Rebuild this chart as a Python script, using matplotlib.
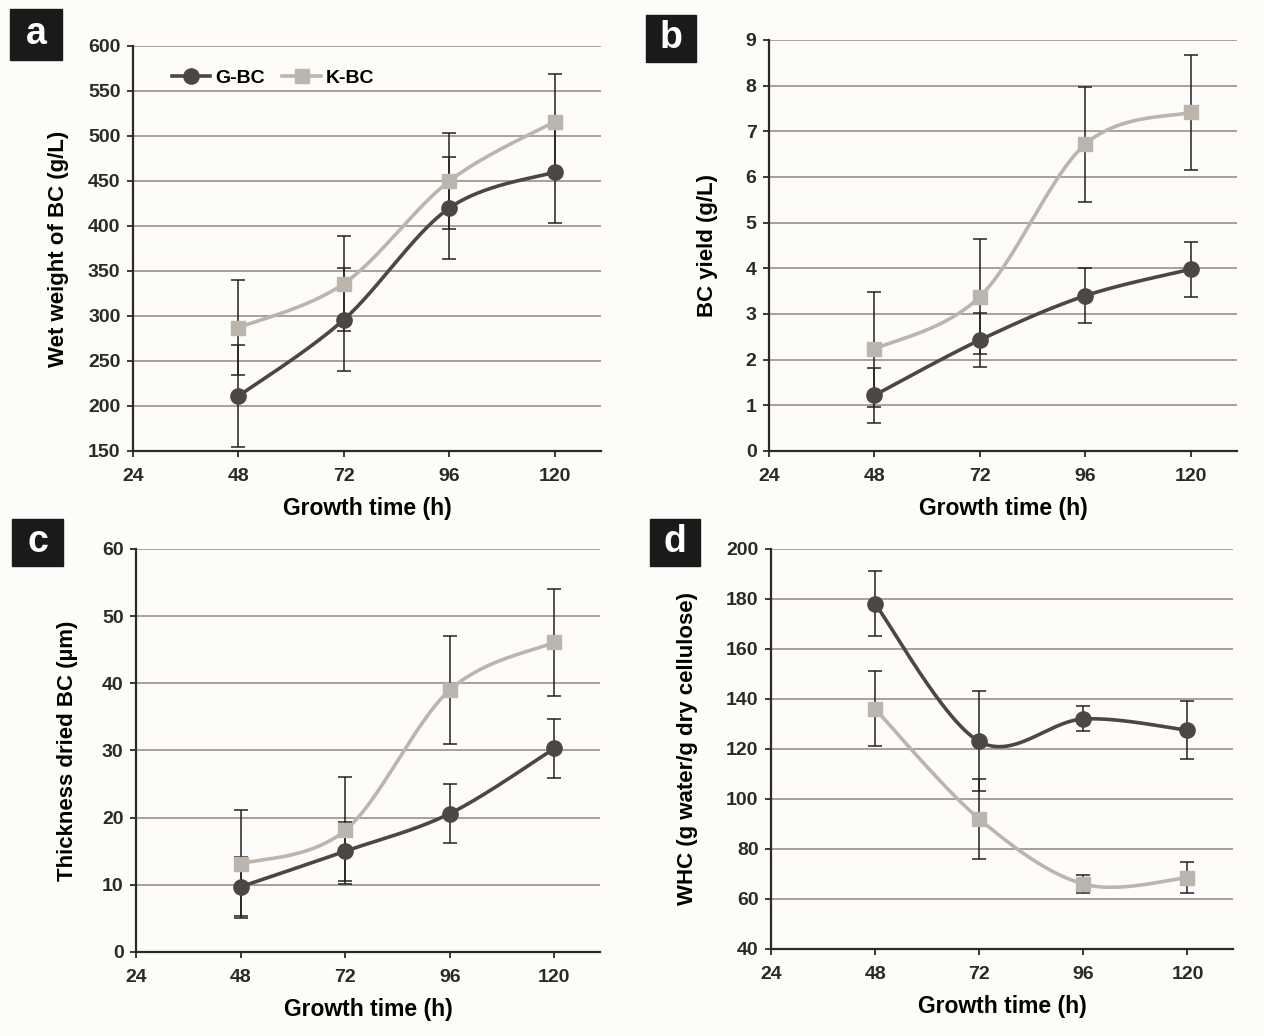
import numpy as np
import matplotlib.pyplot as plt
from matplotlib.patches import Rectangle
from matplotlib.lines import Line2D

plt.rcParams["font.family"] = ["Liberation Sans", "DejaVu Sans"]
plt.rcParams["font.weight"] = "bold"

hours = [48, 72, 96, 120]
series_names = ["G-BC", "K-BC"]

# (a) wet weight of BC (g/L)
wet_g = [211, 296, 420, 460]
wet_g_err = [57, 57, 57, 57]
wet_k = [287, 336, 450, 516]
wet_k_err = [53, 53, 53, 53]

# (b) BC yield (g/L)
yield_g = [1.22, 2.43, 3.40, 3.98]
yield_g_err = [0.60, 0.60, 0.60, 0.60]
yield_k = [2.23, 3.38, 6.72, 7.42]
yield_k_err = [1.26, 1.26, 1.26, 1.26]

# (c) thickness of dried BC (um)
thick_g = [9.7, 15.0, 20.6, 30.3]
thick_g_err = [4.4, 4.4, 4.4, 4.4]
thick_k = [13.1, 18.1, 39.0, 46.1]
thick_k_err = [8.0, 8.0, 8.0, 8.0]

# (d) water holding capacity
whc_g = [178, 123, 132, 127.5]
whc_g_err = [13, 20, 5, 11.5]
whc_k = [136, 92, 66, 68.5]
whc_k_err = [15, 16, 3.5, 6.3]

DARK = "#4b4843"
LIGHT = "#bcb5ae"
GRID = "#a39a92"
AXIS = "#2a2a2a"
BG = "#fdfcf8"


def smooth(x, y, n=50):
    # Excel-style smoothed line (Catmull-Rom as cubic Bezier)
    pts = np.column_stack([x, y]).astype(float)
    pts = np.vstack([pts[0], pts, pts[-1]])
    t = np.linspace(0, 1, n)[:, None]
    out = []
    for i in range(1, len(pts) - 2):
        p0, p1, p2, p3 = pts[i - 1], pts[i], pts[i + 1], pts[i + 2]
        c1 = p1 + (p2 - p0) / 6
        c2 = p2 - (p3 - p1) / 6
        seg = ((1 - t) ** 3) * p1 + 3 * ((1 - t) ** 2) * t * c1 \
            + 3 * (1 - t) * t ** 2 * c2 + t ** 3 * p2
        out.append(seg)
    seg = np.vstack(out)
    return seg[:, 0], seg[:, 1]


def panel(ax, g, g_err, k, k_err, ylim, ystep, ylabel, labelpad):
    ax.set_facecolor(BG)
    for vals, errs, col, mk, ms in [(g, g_err, DARK, "o", 11),
                                     (k, k_err, LIGHT, "s", 10)]:
        sx, sy = smooth(hours, vals)
        ax.plot(sx, sy, color=col, lw=2.6, zorder=3)
        ax.errorbar(hours, vals, yerr=errs, fmt="none", ecolor="#222222",
                    elinewidth=1.1, capsize=5, capthick=1.1, zorder=4)
        ax.plot(hours, vals, ls="none", marker=mk, ms=ms, color=col, zorder=5)
    ax.set_xlim(24, 130.5)
    ax.set_xticks([24, 48, 72, 96, 120])
    ax.set_ylim(*ylim)
    ax.set_yticks(np.arange(ylim[0], ylim[1] + ystep / 2, ystep))
    ax.yaxis.grid(True, color=GRID, lw=1.3)
    ax.set_axisbelow(True)
    for s in ["top", "right"]:
        ax.spines[s].set_visible(False)
    for s in ["left", "bottom"]:
        ax.spines[s].set_color(AXIS)
        ax.spines[s].set_linewidth(1.6)
    ax.tick_params(axis="both", labelsize=14, colors=AXIS, length=4,
                   width=1.3)
    ax.tick_params(axis="x", pad=8)
    ax.tick_params(axis="y", pad=5)
    ax.set_xlabel("Growth time (h)", fontsize=16.5, fontweight="bold",
                  labelpad=9)
    ax.set_ylabel(ylabel, fontsize=16, fontweight="bold", labelpad=labelpad)


fig = plt.figure(figsize=(12.64, 10.36), dpi=100, facecolor=BG)

ax_a = fig.add_axes([0.1052, 0.5647, 0.3703, 0.3909])
ax_b = fig.add_axes([0.6084, 0.5647, 0.3702, 0.3967])
ax_c = fig.add_axes([0.1076, 0.0811, 0.3671, 0.3890])
ax_d = fig.add_axes([0.6100, 0.0840, 0.3655, 0.3861])

panel(ax_a, wet_g, wet_g_err, wet_k, wet_k_err, (150, 600), 50,
      "Wet weight of BC (g/L)", 14)
panel(ax_b, yield_g, yield_g_err, yield_k, yield_k_err, (0, 9), 1,
      "BC yield (g/L)", 20)
panel(ax_c, thick_g, thick_g_err, thick_k, thick_k_err, (0, 60), 10,
      "Thickness dried BC (µm)", 17)
panel(ax_d, whc_g, whc_g_err, whc_k, whc_k_err, (40, 200), 20,
      "WHC (g water/g dry cellulose)", 20)

handles = [Line2D([], [], color=DARK, lw=2.6, marker="o", ms=11),
           Line2D([], [], color=LIGHT, lw=2.6, marker="s", ms=10)]
ax_a.legend(handles, series_names, loc="upper left", bbox_to_anchor=(0.045, 0.985),
            ncol=2, frameon=False, fontsize=14, handlelength=2.0,
            handletextpad=0.25, columnspacing=0.9)

# panel letters in black boxes (pixel coords from top-left)
W, H = 1264, 1036
for letter, x0, y0, x1, y1 in [("a", 10, 9, 62, 60), ("b", 646, 15, 696, 62),
                                ("c", 12, 519, 63, 566), ("d", 650, 519, 700, 566)]:
    fig.add_artist(Rectangle((x0 / W, 1 - y1 / H), (x1 - x0) / W, (y1 - y0) / H,
                             transform=fig.transFigure, color="#1a1a1a"))
    fig.text((x0 + x1) / 2 / W, 1 - (y0 + y1) / 2 / H, letter, color="white",
             fontsize=27, fontweight="bold", ha="center", va="center")

fig.savefig("out.png", dpi=100, facecolor=BG)
